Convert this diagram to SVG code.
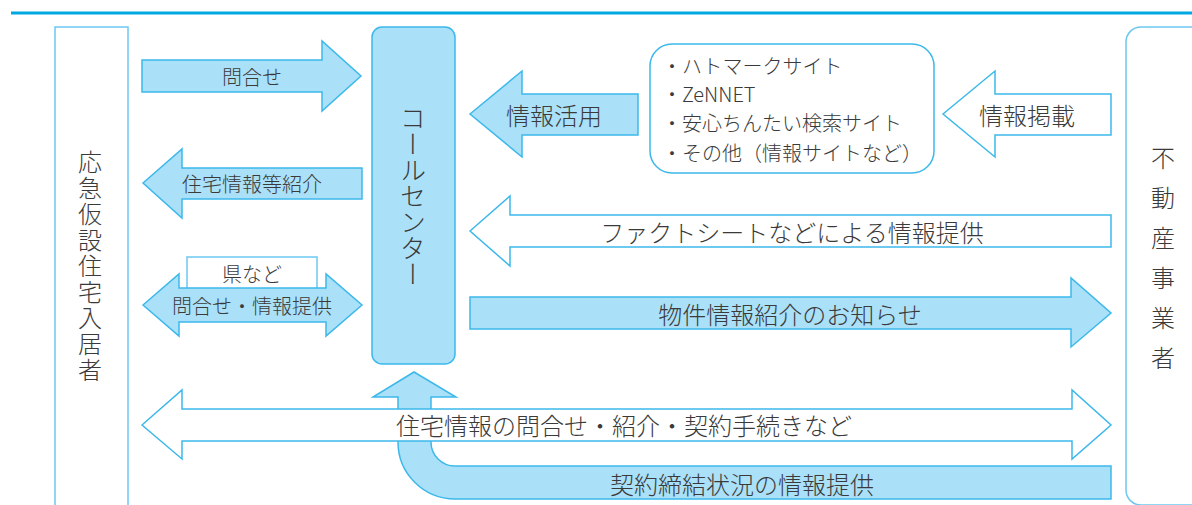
<svg xmlns="http://www.w3.org/2000/svg" width="1192" height="505" viewBox="0 0 1192 505">
<style>
.fill{fill:#aae0f8;stroke:#3cb8ea;stroke-width:1.5;stroke-linejoin:miter}
.hollow{fill:#ffffff;stroke:#3cb8ea;stroke-width:1.5}
.box{fill:#ffffff;stroke:#6cc8ef;stroke-width:1.5}
text{font-family:"Noto Sans CJK JP","Noto Sans",sans-serif;font-weight:300;fill:#3a3a3a;dominant-baseline:central}
.c{text-anchor:middle}
.s20{font-size:20px}
.s24{font-size:24px}
.vert{writing-mode:vertical-rl;text-anchor:middle;dominant-baseline:central}
</style>
<rect width="1192" height="505" fill="#ffffff"/>
<line x1="11" y1="13" x2="1192" y2="13" stroke="#00a8e1" stroke-width="3"/>

<g id="resident">
<rect class="box" x="55" y="27" width="73" height="490"/>
<text class="vert" x="90" y="267" font-size="24" letter-spacing="2">応急仮設住宅入居者</text>
</g>

<g id="callcenter">
<rect class="fill" x="372" y="27" width="83" height="337" rx="10"/>
<text class="vert" x="413" y="196" font-size="26">コールセンター</text>
</g>

<g id="sites">
<rect class="hollow" x="650" y="44" width="284" height="129" rx="22"/>
<text class="s20" x="662" y="65">・ハトマークサイト</text>
<text class="s20" x="662" y="93">・ZeNNET</text>
<text class="s20" x="662" y="122">・安心ちんたい検索サイト</text>
<text class="s20" x="662" y="152">・その他（情報サイトなど）</text>
</g>

<g id="realestate">
<rect class="box" x="1126" y="27" width="100" height="478" rx="15"/>
<text class="vert" x="1163" y="266" font-size="24" letter-spacing="16">不動産事業者</text>
</g>

<g id="pref">
<rect class="box" x="187" y="257" width="130" height="40"/>
<text class="c s20" x="252" y="273">県など</text>
</g>

<g id="connectors">
<polygon class="fill" points="142,60 322,60 322,41 361,76 322,111 322,92 142,92"/>
<text class="c s20" x="252" y="76">問合せ</text>

<polygon class="fill" points="143,183 182,149 182,168 362,168 362,199 182,199 182,218"/>
<text class="c s20" x="252" y="183">住宅情報等紹介</text>

<polygon class="fill" points="143,305 179,274 179,288 326,288 326,274 362,305 326,336 326,322 179,322 179,336"/>
<text class="c s20" x="252" y="305">問合せ・情報提供</text>

<polygon class="fill" points="470,114 522,71 522,94 638,94 638,135 522,135 522,157"/>
<text class="c s24" x="554" y="114">情報活用</text>

<polygon class="hollow" points="943,114 995,71 995,94 1111,94 1111,135 995,135 995,157"/>
<text class="c s24" x="1027" y="114">情報掲載</text>

<polygon class="hollow" points="470,231 510,196 510,215 1111,215 1111,247 510,247 510,266"/>
<text class="c s24" x="792" y="231">ファクトシートなどによる情報提供</text>

<polygon class="fill" points="470,297 1071,297 1071,278 1111,313 1071,347 1071,329 470,329"/>
<text class="c s24" x="790" y="313">物件情報紹介のお知らせ</text>

<path class="fill" d="M414,372 L456,397 L431,397 L431,442 A24,24 0 0 0 455,466 L1111,466 L1111,499 L455,499 A57,57 0 0 1 398,442 L398,397 L373,397 Z"/>
<text class="c s24" x="742" y="483">契約締結状況の情報提供</text>

<polygon class="hollow" points="142,425 182,390 182,409 1072,409 1072,390 1111,425 1072,459 1072,441 182,441 182,459"/>
<text class="c s24" x="624" y="424">住宅情報の問合せ・紹介・契約手続きなど</text>
</g>
</svg>
